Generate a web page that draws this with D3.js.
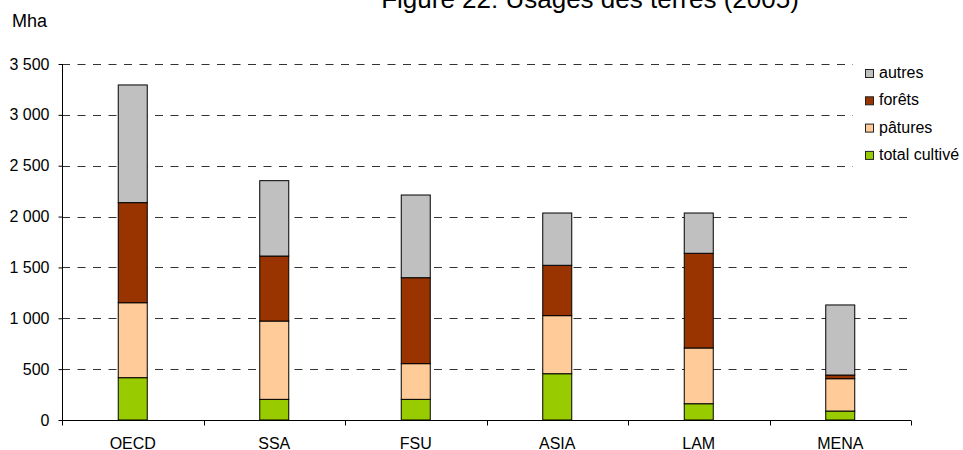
<!DOCTYPE html>
<html>
<head>
<meta charset="utf-8">
<script src="https://cdn.jsdelivr.net/npm/d3@7"></script>
<style>
  html, body { margin: 0; padding: 0; background: #fff; }
  svg { display: block; font-family: "Liberation Sans", Arial, sans-serif; }
</style>
</head>
<body>
<svg id="chart" width="963" height="450"></svg>
<script>
// Land use by region, Mha
const regions = ["OECD", "SSA", "FSU", "ASIA", "LAM", "MENA"];
const cultive = [416, 203, 203, 455, 160, 88];
const patures = [737, 770, 351, 571, 548, 318];
const forets  = [984, 639, 845, 495, 931, 36];
const autres  = [1157, 741, 813, 514, 396, 689];
const yTicks = [0, 500, 1000, 1500, 2000, 2500, 3000, 3500];

const seriesKeys = ["cultive", "patures", "forets", "autres"];
const seriesNames = { cultive: "total cultivé", patures: "pâtures", forets: "forêts", autres: "autres" };
const seriesColors = { cultive: "#99CC00", patures: "#FFCC99", forets: "#993300", autres: "#C0C0C0" };

const rows = regions.map((r, i) => ({
  region: r, cultive: cultive[i], patures: patures[i], forets: forets[i], autres: autres[i]
}));

const svg = d3.select("#chart");
const plotLeft = 62, plotRight = 911, plotTop = 64, plotBottom = 420;

const x = d3.scaleBand().domain(regions).range([plotLeft, plotRight]).paddingInner(0).paddingOuter(0);
const y = d3.scaleLinear().domain([0, 3500]).range([plotBottom, plotTop]);
const fmt = v => d3.format(",")(v).replace(/,/g, " ");

// title (runs off the top edge of the frame)
svg.append("text")
  .attr("x", 590).attr("y", 7.5)
  .attr("text-anchor", "middle")
  .attr("font-size", 26)
  .attr("fill", "#000")
  .text("Figure 22: Usages des terres (2005)");

// unit label
svg.append("text")
  .attr("x", 12).attr("y", 27)
  .attr("font-size", 18)
  .text("Mha");

// dashed gridlines; the upper ones stop short of the legend
const legendEdge = 853;
svg.append("g").selectAll("line")
  .data(yTicks.filter(t => t > 0))
  .join("line")
  .attr("x1", plotLeft)
  .attr("x2", t => t >= 2500 ? legendEdge : plotRight)
  .attr("y1", t => Math.round(y(t)) + 0.5)
  .attr("y2", t => Math.round(y(t)) + 0.5)
  .attr("stroke", "#333")
  .attr("stroke-width", 1)
  .attr("stroke-dasharray", "8,7.5");

// stacked bars
const stack = d3.stack().keys(seriesKeys)(rows);
const barW = x.bandwidth() * 0.205;
svg.append("g").selectAll("g")
  .data(stack)
  .join("g")
  .attr("fill", d => seriesColors[d.key])
  .selectAll("rect")
  .data(d => d)
  .join("rect")
  .attr("x", d => x(d.data.region) + x.bandwidth() / 2 - barW / 2)
  .attr("y", d => y(d[1]))
  .attr("width", barW)
  .attr("height", d => y(d[0]) - y(d[1]))
  .attr("stroke", "#000")
  .attr("stroke-width", 1);

// y axis
const yAxis = svg.append("g")
  .attr("transform", `translate(${plotLeft + 0.5},0)`)
  .call(d3.axisLeft(y).tickValues(yTicks).tickSize(4).tickPadding(9).tickFormat(fmt));
yAxis.select(".domain").attr("d", `M0,${plotTop}V${plotBottom}`);
yAxis.selectAll("text").attr("font-size", 16).attr("font-family", "Liberation Sans, Arial, sans-serif").attr("fill", "#000");
yAxis.selectAll("line").attr("stroke", "#000");

// x axis with ticks at category boundaries
const xAxis = svg.append("g").attr("transform", `translate(0,${plotBottom + 0.5})`);
xAxis.append("line").attr("x1", plotLeft).attr("x2", plotRight).attr("stroke", "#000");
const bounds = regions.map(r => x(r)).concat([plotRight]);
xAxis.selectAll("line.tick")
  .data(bounds)
  .join("line")
  .attr("class", "tick")
  .attr("x1", d => Math.round(d) + 0.5).attr("x2", d => Math.round(d) + 0.5)
  .attr("y1", 0).attr("y2", 5)
  .attr("stroke", "#000");
xAxis.selectAll("text")
  .data(regions)
  .join("text")
  .attr("x", d => x(d) + x.bandwidth() / 2)
  .attr("y", 28.5)
  .attr("text-anchor", "middle")
  .attr("font-size", 16)
  .text(d => d);

// legend
const legendKeys = ["autres", "forets", "patures", "cultive"];
const lg = svg.append("g").attr("transform", "translate(865,78)");
const items = lg.selectAll("g").data(legendKeys).join("g")
  .attr("transform", (d, i) => `translate(0,${i * 27.3})`);
items.append("rect")
  .attr("x", 0.5).attr("y", -8.5).attr("width", 8).attr("height", 8)
  .attr("fill", d => seriesColors[d]).attr("stroke", "#222");
items.append("text")
  .attr("x", 14).attr("y", 0)
  .attr("font-size", 16)
  .text(d => seriesNames[d]);
</script>
</body>
</html>
